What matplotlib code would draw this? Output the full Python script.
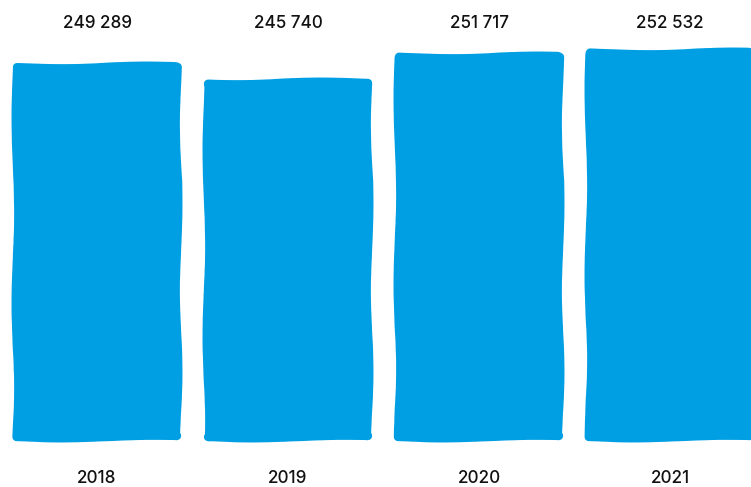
import matplotlib.pyplot as plt
from matplotlib.transforms import blended_transform_factory

# Données
annees = ["2018", "2019", "2020", "2021"]
valeurs = [249289, 245740, 251717, 252532]
etiquettes = ["249 289", "245 740", "251 717", "252 532"]
base = 165000

BLEU = "#009fe3"

plt.rcParams["font.family"] = ["Inter", "DejaVu Sans"]

fig = plt.figure(figsize=(7.51, 4.87), dpi=100)
ax = fig.add_axes([0, 0, 1, 1])

x = list(range(len(annees)))
hauteurs = [v - base for v in valeurs]
barres = ax.bar(x, hauteurs, bottom=base, width=0.835, color=BLEU, edgecolor=BLEU,
                linewidth=6, joinstyle="round", capstyle="round")
for b in barres:
    b.set_sketch_params(scale=1.3, length=220, randomness=3)

ax.set_xlim(-0.508, 3.424)
ax.set_ylim(base - 50 * 228, base + 437 * 228)
ax.axis("off")

trans = blended_transform_factory(ax.transData, fig.transFigure)
for xi, an, et in zip(x, annees, etiquettes):
    ax.text(xi, 1 - 28 / 487, et, transform=trans, ha="center", va="baseline",
            fontsize=12.3, color="#111111", fontweight="medium")
    ax.text(xi, 1 - 483 / 487, an, transform=trans, ha="center", va="baseline",
            fontsize=12.3, color="#111111", fontweight="medium")

fig.savefig("out.png", dpi=100)
plt.close(fig)
